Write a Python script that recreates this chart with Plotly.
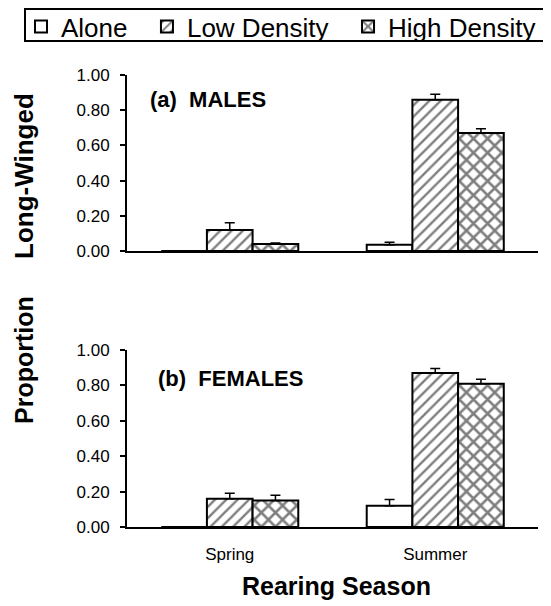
import plotly.graph_objects as go

seasons = ["Spring", "Summer"]
groups = ["Alone", "Low Density", "High Density"]

males_alone = [0.0, 0.035]
males_low = [0.12, 0.86]
males_high = [0.04, 0.67]
males_alone_err = [0.0, 0.015]
males_low_err = [0.04, 0.03]
males_high_err = [0.005, 0.025]

females_alone = [0.0, 0.12]
females_low = [0.16, 0.87]
females_high = [0.15, 0.81]
females_alone_err = [0.0, 0.035]
females_low_err = [0.03, 0.025]
females_high_err = [0.03, 0.025]

FONT = "Arial, Liberation Sans, sans-serif"
OFF = 8  # page body margin
W, H = 551 - OFF, 606 - OFF

patterns = {
    "Alone": dict(shape=""),
    "Low Density": dict(shape="/", fgcolor="black", bgcolor="white", size=8, solidity=0.3),
    "High Density": dict(shape="x", fgcolor="black", bgcolor="white", size=10, solidity=0.45),
}
legend_labels = {"Alone": "Alone\u00a0\u00a0", "Low Density": "Low Density\u00a0\u00a0", "High Density": "High Density"}

fig = go.Figure()

panels = [
    ("x", "y", [males_alone, males_low, males_high], [males_alone_err, males_low_err, males_high_err], True),
    ("x2", "y2", [females_alone, females_low, females_high], [females_alone_err, females_low_err, females_high_err], False),
]

for xa, ya, vals, errs, show in panels:
    for name, v, e in zip(groups, vals, errs):
        fig.add_trace(go.Bar(
            x=seasons, y=v, name=legend_labels[name], xaxis=xa, yaxis=ya,
            legendgroup=name, showlegend=show,
            marker=dict(color="white", line=dict(color="black", width=2), pattern=patterns[name]),
            error_y=dict(type="data", array=e, arrayminus=[0] * len(e), symmetric=False,
                         color="black", thickness=1.5, width=5),
        ))

def px(p):
    return (p - OFF) / W

def py(p):
    return 1 - (p - OFF) / H

xdom = [px(127), px(538)]
common_x = dict(range=[-0.5, 1.5], showline=True, linecolor="black", linewidth=2,
                ticks="", showgrid=False, zeroline=False, domain=xdom, ticklabelstandoff=11,
                tickfont=dict(family=FONT, size=17, color="black"))
common_y = dict(range=[0, 1], showline=True, linecolor="black", linewidth=2,
                ticks="outside", ticklen=5, tickwidth=1.5, tickcolor="black",
                tickvals=[0, 0.2, 0.4, 0.6, 0.8, 1.0], tickformat=".2f",
                showgrid=False, zeroline=False, ticklabelstandoff=7,
                tickfont=dict(family=FONT, size=17, color="black"))

fig.update_layout(
    width=W, height=H,
    margin=dict(l=0, r=0, t=0, b=0, autoexpand=False),
    paper_bgcolor="white", plot_bgcolor="white",
    barmode="group", bargap=0.333, bargroupgap=0,
    font=dict(family=FONT, color="black"),
    xaxis=dict(common_x, anchor="y", showticklabels=False),
    yaxis=dict(common_y, anchor="x", domain=[py(251), py(75)]),
    xaxis2=dict(common_x, anchor="y2"),
    yaxis2=dict(common_y, anchor="x2", domain=[py(527), py(350)]),
    legend=dict(orientation="h", x=px(21), y=py(3), xanchor="left", yanchor="top",
                borderwidth=0, bgcolor="rgba(0,0,0,0)",
                font=dict(family=FONT, size=26, color="black"),
                traceorder="normal", itemwidth=30),
    shapes=[
        dict(type="rect", xref="paper", yref="paper", x0=px(25), x1=px(547), y0=py(41), y1=py(9),
             line=dict(color="black", width=2), fillcolor="rgba(0,0,0,0)", layer="below"),
    ],
    annotations=[
        dict(text="<b>(a)\u00a0 MALES</b>", xref="paper", yref="paper", x=px(148), y=py(99),
             xanchor="left", yanchor="middle", showarrow=False, font=dict(family=FONT, size=22)),
        dict(text="<b>(b)\u00a0 FEMALES</b>", xref="paper", yref="paper", x=px(156), y=py(378),
             xanchor="left", yanchor="middle", showarrow=False, font=dict(family=FONT, size=22)),
        dict(text="<b>Long-Winged</b>", xref="paper", yref="paper", x=px(24), y=py(176),
             xanchor="center", yanchor="middle", textangle=-90, showarrow=False,
             font=dict(family=FONT, size=26)),
        dict(text="<b>Proportion</b>", xref="paper", yref="paper", x=px(24), y=py(360),
             xanchor="center", yanchor="middle", textangle=-90, showarrow=False,
             font=dict(family=FONT, size=25)),
        dict(text="<b>Rearing Season</b>", xref="paper", yref="paper", x=px(336), y=py(586),
             xanchor="center", yanchor="middle", showarrow=False, font=dict(family=FONT, size=25)),
    ],
)

fig.write_html("out.html")
